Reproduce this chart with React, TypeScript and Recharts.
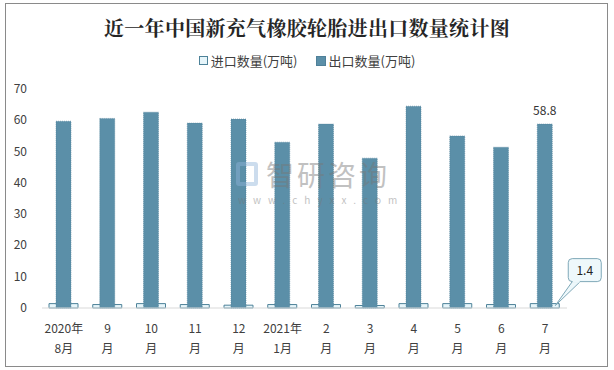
import { Bar, BarChart, LabelList, XAxis, YAxis } from "recharts"

const months = ["2020年|8月", "9|月", "10|月", "11|月", "12|月", "2021年|1月", "2|月", "3|月", "4|月", "5|月", "6|月", "7|月"]
const importValues = [1.4, 1.1, 1.4, 1.1, 0.9, 1.1, 1.1, 0.8, 1.4, 1.4, 1.1, 1.4]
const exportValues = [59.7, 60.6, 62.6, 59.1, 60.4, 53.0, 58.8, 47.9, 64.5, 55.0, 51.4, 58.8]
const yTicks = [0, 10, 20, 30, 40, 50, 60, 70]

const data = months.map((m, i) => ({ month: m, imp: importValues[i], exp: exportValues[i] }))

const FONT = "'Noto Sans CJK SC', 'Microsoft YaHei', sans-serif"

const MonthTick = ({ x, y, payload }: any) => {
    const [a, b] = String(payload.value).split("|")
    return (
        <text x={x} y={y} textAnchor="middle" fontSize={12} fill="#404040" fontFamily={FONT}>
            <tspan x={x} dy={17}>{a}</tspan>
            <tspan x={x} dy={20}>{b}</tspan>
        </text>
    )
}

const ValueTick = ({ y, payload }: any) => (
    <text x={27} y={y} dy={4} textAnchor="end" fontSize={12} fill="#404040" fontFamily={FONT}>
        {payload.value}
    </text>
)

// callout box for the last import value
const Callout = (props: any) => {
    const { x, y, width, value, index } = props
    if (index !== importValues.length - 1) return null
    const tipX = x + width - 4
    const tipY = y + 2
    const bx = x + width + 9
    const by = y - 45
    return (
        <g>
            <path
                d={`M ${bx + 4} ${by + 23} L ${tipX} ${tipY} L ${bx + 12} ${by + 23}`}
                fill="#eef8fb"
                stroke="#7fa8b8"
                strokeWidth={1}
            />
            <rect x={bx} y={by} width={33} height={23} rx={4} fill="#eef8fb" stroke="#7fa8b8" strokeWidth={1} />
            <line x1={bx + 4.5} y1={by + 23} x2={bx + 11.5} y2={by + 23} stroke="#eef8fb" strokeWidth={2} />
            <text x={bx + 16.5} y={by + 16} textAnchor="middle" fontSize={12} fill="#222" fontFamily={FONT}>
                {value}
            </text>
        </g>
    )
}

const TopLabel = (props: any) => {
    const { x, y, width, value, index } = props
    if (index !== exportValues.length - 1) return null
    return (
        <text x={x + width / 2} y={y - 9} textAnchor="middle" fontSize={12} fill="#333" fontFamily={FONT}>
            {value}
        </text>
    )
}

export default function App() {
    return (
        <div style={{ position: "absolute", left: 0, top: 0, width: 614, height: 370, background: "#fff", fontFamily: FONT }}>
            <div style={{ position: "absolute", left: 5, top: 3, width: 603, height: 364, border: "1px solid #8a8a8a", boxSizing: "border-box" }} />
            <div style={{ position: "absolute", left: 0, top: 13, width: 614, textAlign: "center", fontSize: 20, fontWeight: "bold", color: "#262626", fontFamily: "'Noto Serif CJK SC', 'Noto Sans CJK SC', serif", letterSpacing: 0.3 }}>
                近一年中国新充气橡胶轮胎进出口数量统计图
            </div>
            <div style={{ position: "absolute", left: 0, top: 51, width: 614, display: "flex", justifyContent: "center", gap: 18, fontSize: 13, color: "#404040" }}>
                <span style={{ display: "flex", alignItems: "center" }}>
                    <span style={{ width: 7, height: 7, background: "#e6f5fa", border: "1px solid #4d8299", marginRight: 3 }} />
                    进口数量(万吨)
                </span>
                <span style={{ display: "flex", alignItems: "center" }}>
                    <span style={{ width: 8, height: 8, background: "#5b8fa8", border: "1px solid #4f8099", marginRight: 3 }} />
                    出口数量(万吨)
                </span>
            </div>
            <div style={{ position: "absolute", left: 0, top: 0 }}>
                <BarChart width={614} height={370} data={data} margin={{ top: 89, right: 47, left: 0, bottom: 12 }}>
                    <XAxis
                        xAxisId="a"
                        dataKey="month"
                        axisLine={{ stroke: "#d9d9d9" }}
                        tickLine={false}
                        height={50}
                        interval={0}
                        tick={<MonthTick />}
                    />
                    <XAxis xAxisId="b" dataKey="month" hide />
                    <YAxis width={42} domain={[0, 70]} ticks={yTicks} axisLine={false} tickLine={false} tick={<ValueTick />} />
                    <Bar xAxisId="a" dataKey="imp" barSize={29} fill="#e6f5fa" stroke="#4d8299" strokeWidth={1} isAnimationActive={false}>
                        <LabelList dataKey="imp" content={<Callout />} />
                    </Bar>
                    <Bar xAxisId="b" dataKey="exp" barSize={15} fill="#5b8fa8" stroke="#4f8099" strokeWidth={0.6} strokeDasharray="1 1" isAnimationActive={false}>
                        <LabelList dataKey="exp" content={<TopLabel />} />
                    </Bar>
                </BarChart>
            </div>
            <div style={{ position: "absolute", left: 236, top: 157, height: 34, display: "flex", alignItems: "center", opacity: 0.45, pointerEvents: "none" }}>
                <span style={{ width: 22, height: 24, border: "4px solid #8fb3d9", borderRadius: 3, boxSizing: "border-box", marginRight: 8 }} />
                <span style={{ fontSize: 28, lineHeight: "34px", color: "#777", letterSpacing: 3 }}>智研咨询</span>
            </div>
            <div style={{ position: "absolute", left: 238, top: 194, fontSize: 10, lineHeight: "12px", color: "#777", opacity: 0.45, letterSpacing: 7 }}>
                www.chyxx.com
            </div>
        </div>
    )
}
